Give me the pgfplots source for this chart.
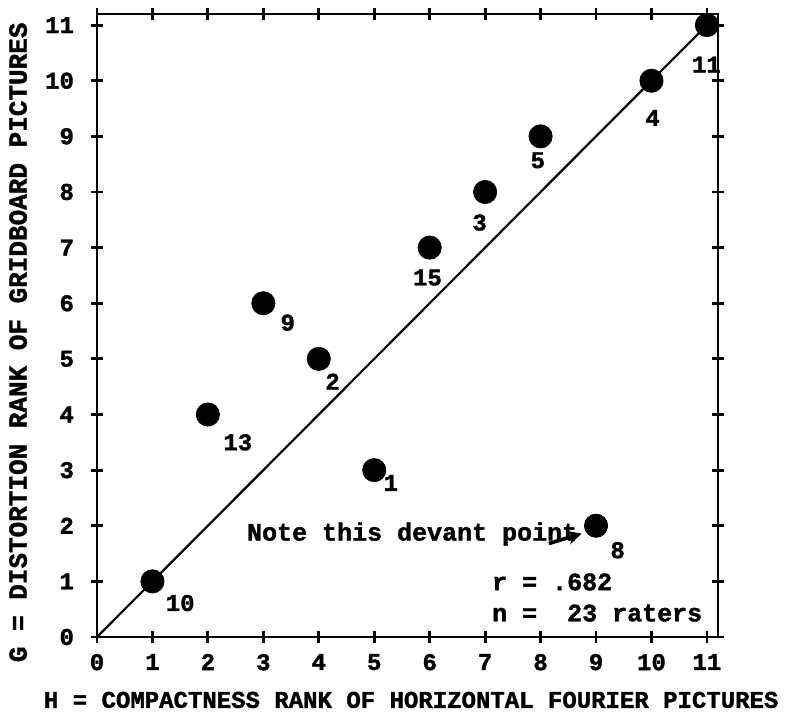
\documentclass[border=0pt]{standalone}
\usepackage{fontspec}
\setmainfont{Liberation Mono}[BoldFeatures={FakeBold=1.5}]
\setmonofont{Liberation Mono}
\usepackage{pgfplots}
\pgfplotsset{compat=1.18}
\usetikzlibrary{arrows.meta}

\begin{document}
\begin{tikzpicture}
\begin{axis}[
    scale only axis,
    width=310.5pt, height=311.5pt,
    xmin=0, xmax=11.2, ymin=0, ymax=11.2,
    xtick={0,...,11}, ytick={0,...,11},
    tick align=center,
    major tick length=6pt,
    axis line style={line width=1.4pt},
    every tick/.style={black, line width=1.4pt},
    /pgf/number format/assume math mode=true,
    tick label style={font=\fontsize{12}{14}\selectfont\bfseries},
    xticklabel style={yshift=-2pt},
    yticklabel style={xshift=-5pt},
    xlabel={H = COMPACTNESS RANK OF HORIZONTAL FOURIER PICTURES},
    ylabel={G = DISTORTION RANK OF GRIDBOARD PICTURES},
    xlabel style={font=\fontsize{12}{14}\selectfont\bfseries,
        at={(axis description cs:0.506,-0.101)}, anchor=center},
    ylabel style={font=\fontsize{13}{15}\selectfont\bfseries,
        at={(axis description cs:-0.127,0.473)}, anchor=center},
    clip=false,
]
% fitted line
\addplot[black, line width=1.1pt] coordinates {(0,0) (11,11)};

% ranks
\addplot[only marks, mark=*, mark size=5.8pt, black] coordinates {
    (1,1) (2,4) (3,6) (4,5) (5,3) (6,7) (7,8) (8,9) (9,2) (10,10) (11,11)};

% picture numbers
\begin{scope}[every node/.style={font=\fontsize{12}{13}\selectfont\bfseries, inner sep=0pt}]
\node at (axis cs:1.50,0.61) {10};
\node at (axis cs:2.54,3.50) {13};
\node at (axis cs:3.44,5.65) {9};
\node at (axis cs:4.25,4.59) {2};
\node at (axis cs:5.30,2.77) {1};
\node at (axis cs:5.96,6.46) {15};
\node at (axis cs:6.90,7.45) {3};
\node at (axis cs:7.95,8.57) {5};
\node at (axis cs:10.02,9.33) {4};
\node at (axis cs:10.99,10.29) {11};
\node at (axis cs:9.39,1.56) {8};
\end{scope}

\begin{scope}[every node/.style={font=\fontsize{12.5}{14}\selectfont\bfseries, inner sep=0pt, anchor=west}]
\node at (axis cs:2.70,1.85) {Note this devant point};
\node at (axis cs:7.12,0.99) {r = .682};
\node at (axis cs:7.12,0.43) {n =~~23 raters};
\end{scope}
\draw[line width=1.8pt, -{Stealth[length=7pt,width=7pt]}] (axis cs:8.15,1.68) -- (axis cs:8.74,1.86);
\end{axis}
\path ([shift={(-48.5pt,-37pt)}]current axis.south west) rectangle ([shift={(34.5pt,7pt)}]current axis.north east);
\end{tikzpicture}
\end{document}
